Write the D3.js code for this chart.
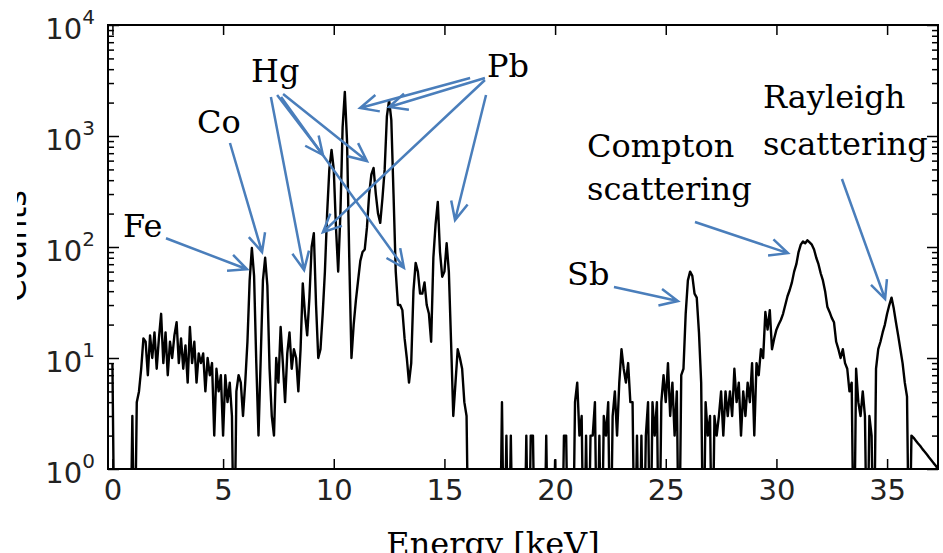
<!DOCTYPE html>
<html>
<head>
<meta charset="utf-8">
<script src="https://cdn.jsdelivr.net/npm/d3@7"></script>
<style>
  html, body { margin: 0; padding: 0; background: #fff; }
  svg { display: block; }
</style>
</head>
<body>
<div id="grafEspectro"></div>
<script>
// counts per channel, channels are 0.1 keV wide starting at 0 keV (one row = 1 keV)
const canalPaso = 0.1
const cuentas = [
  9, 0, 0, 0, 0, 0, 0, 0, 0, 3,
  0, 4, 5, 8, 15, 14, 7, 16, 10, 17,
  8, 15, 25, 9, 17, 7, 14, 10, 16, 21,
  9, 15, 8, 13, 6, 19, 9, 14, 6, 11,
  9, 11, 5, 10, 7, 9, 2, 8, 5, 7,
  2, 7, 4, 6, 3, 0, 5, 7, 6, 3,
  6, 14, 50, 98, 55, 9, 2, 10, 50, 80,
  45, 8, 3, 2, 10, 6, 19, 9, 4, 11,
  17, 8, 12, 10, 5, 12, 47, 25, 16, 35,
  100, 133, 30, 10, 12, 25, 60, 200, 500, 750,
  500, 150, 60, 200, 1200, 2500, 900, 80, 10, 20,
  33, 50, 75, 90, 95, 150, 300, 450, 515, 300,
  200, 165, 275, 500, 1500, 2100, 1400, 300, 60, 30,
  30, 27, 15, 10, 6, 9, 40, 72, 60, 38,
  38, 48, 30, 25, 14, 80, 160, 255, 90, 54,
  60, 108, 60, 14, 3, 6, 12, 10, 8, 4,
  3, 0, 0, 0, 0, 0, 0, 0, 0, 0,
  0, 0, 0, 0, 0, 0, 4, 0, 2, 0,
  2, 0, 0, 0, 0, 0, 0, 2, 0, 2,
  2, 0, 0, 0, 0, 0, 2, 0, 0, 0,
  1.2, 0, 0, 0, 2, 2, 0, 0, 0, 4,
  6, 2, 3, 0, 2, 0, 2, 2, 4, 0,
  2, 0, 3, 2, 4, 0, 3, 5, 2, 6,
  12, 8, 6, 9, 4, 4, 0, 2, 0, 2,
  0, 2, 4, 0, 4, 2, 4, 0, 4, 7,
  4, 9, 3, 6, 2, 5, 0, 7, 8, 25,
  50, 60, 55, 38, 35, 17, 6, 0, 4, 2,
  3, 0, 3, 2, 3, 5, 2, 5, 3, 5,
  3, 8, 4, 6, 2, 5, 3, 6, 4, 9,
  2, 9, 7, 12, 10, 26, 18, 27, 12, 15,
  18, 20, 22, 25, 30, 36, 41, 48, 60, 70,
  90, 105, 112, 108, 115, 110, 105, 95, 80, 70,
  58, 50, 40, 29, 26, 23, 21, 14, 12, 10,
  12, 9, 8, 5, 6, 0, 8, 4, 3, 5,
  3, 0, 3, 2, 0, 8, 12, 14, 17, 20,
  25, 30, 35, 28, 21, 16, 12, 9, 6, 4.5,
  0, 2, 1.91, 1.8, 1.7, 1.61, 1.51, 1.43, 1.35, 1.27,
  1.2, 1.13, 1.07, 1.0, 0.95
]

const ticksX = [0, 5, 10, 15, 20, 25, 30, 35]
const ticksY = [1, 10, 100, 1000, 10000]
const exponentesY = ["0", "1", "2", "3", "4"]

// labels: energy [keV] and counts of the text baseline start
const etiquetas = [
  { texto: "Fe", e: 0.48, c: 123 },
  { texto: "Co", e: 3.82, c: 1064 },
  { texto: "Hg", e: 6.26, c: 3064 },
  { texto: "Pb", e: 16.92, c: 3404 },
  { texto: "Sb", e: 20.54, c: 45.5 },
  { texto: "Compton", e: 21.44, c: 647 },
  { texto: "scattering", e: 21.44, c: 265 },
  { texto: "Rayleigh", e: 29.39, c: 1787 },
  { texto: "scattering", e: 29.39, c: 674 }
]

// arrows: from (e0,c0) to the tip (e1,c1)
const flechas = [
  { e0: 2.42, c0: 120, e1: 6.08, c1: 63 },     // Fe
  { e0: 5.31, c0: 865, e1: 6.76, c1: 90 },     // Co
  { e0: 7.16, c0: 2245, e1: 8.66, c1: 62 },    // Hg
  { e0: 7.44, c0: 2340, e1: 9.51, c1: 674 },
  { e0: 7.71, c0: 2390, e1: 11.5, c1: 595 },
  { e0: 7.62, c0: 2245, e1: 13.17, c1: 65 },
  { e0: 16.16, c0: 3333, e1: 11.19, c1: 1788 }, // Pb
  { e0: 16.83, c0: 3333, e1: 12.5, c1: 1825 },
  { e0: 16.83, c0: 3197, e1: 9.51, c1: 136 },
  { e0: 16.88, c0: 2340, e1: 15.48, c1: 175 },
  { e0: 22.66, c0: 43.6, e1: 25.55, c1: 32.6 }, // Sb
  { e0: 26.32, c0: 168, e1: 30.52, c1: 88 },    // Compton
  { e0: 32.96, c0: 410, e1: 34.91, c1: 34 }     // Rayleigh
]

const grafEspectro = d3.select("#grafEspectro")
const anchoTotal = 943
const altoTotal = 553
const margins = { left: 108, top: 25, right: 5, bottom: 84 }
const ancho = anchoTotal - margins.left - margins.right
const alto = altoTotal - margins.top - margins.bottom

const svg = grafEspectro
  .append("svg")
  .attr("width", anchoTotal)
  .attr("height", altoTotal)

const g = svg.append("g")
  .attr("transform", `translate(${margins.left}, ${margins.top})`)

const x = d3.scaleLinear().domain([-0.2, 37.3]).range([0, ancho])
const y = d3.scaleLog().domain([1, 10000]).range([alto, 0])

const minorY = []
ticksY.slice(0, -1).forEach(t => d3.range(2, 10).forEach(k => minorY.push(t * k)))

svg.append("defs").append("clipPath").attr("id", "clipPlot")
  .append("rect").attr("width", ancho).attr("height", alto)

svg.select("defs").append("clipPath").attr("id", "clipY")
  .append("rect").attr("x", 17).attr("y", 0).attr("width", 60).attr("height", altoTotal)

// spectrum
const linea = d3.line()
  .x((d, i) => x(i * canalPaso))
  .y(d => y(Math.max(d, 0.1)))

g.append("path")
  .datum(cuentas)
  .attr("clip-path", "url(#clipPlot)")
  .attr("fill", "none")
  .attr("stroke", "#000")
  .attr("stroke-width", 2.4)
  .attr("stroke-linejoin", "round")
  .attr("d", linea)

// axes, ticks pointing inwards
const estiloEje = (sel) => {
  sel.select(".domain").remove()
  sel.selectAll(".tick line").attr("stroke", "#000").attr("stroke-width", 1.5)
  sel.attr("font-family", "DejaVu Sans").attr("font-size", 29)
  sel.selectAll("text").attr("fill", "#222")
}

g.append("g")
  .attr("transform", `translate(0, ${alto})`)
  .call(d3.axisBottom(x).tickValues(ticksX).tickSizeInner(-10).tickSizeOuter(0).tickPadding(10).tickFormat(d3.format("d")))
  .call(estiloEje)

g.append("g")
  .call(d3.axisTop(x).tickValues(ticksX).tickSizeInner(-10).tickSizeOuter(0).tickFormat(""))
  .call(estiloEje)

const ejeY = g.append("g")
  .call(d3.axisLeft(y).tickValues(ticksY).tickSizeInner(-11).tickSizeOuter(0).tickPadding(13))
  .call(estiloEje)

ejeY.selectAll("text")
  .text("")
  .attr("dy", "0.45em")
  .each(function (d, i) {
    const t = d3.select(this)
    t.append("tspan").text("10")
    t.append("tspan").attr("font-size", 20).attr("dy", -15).text(exponentesY[i])
  })

g.append("g")
  .call(d3.axisLeft(y).tickValues(minorY).tickSizeInner(-6).tickSizeOuter(0).tickFormat(""))
  .call(estiloEje)

g.append("g")
  .attr("transform", `translate(${ancho}, 0)`)
  .call(d3.axisRight(y).tickValues(ticksY).tickSizeInner(-11).tickSizeOuter(0).tickFormat(""))
  .call(estiloEje)

g.append("g")
  .attr("transform", `translate(${ancho}, 0)`)
  .call(d3.axisRight(y).tickValues(minorY).tickSizeInner(-6).tickSizeOuter(0).tickFormat(""))
  .call(estiloEje)

g.append("rect")
  .attr("width", ancho)
  .attr("height", alto)
  .attr("fill", "none")
  .attr("stroke", "#000")
  .attr("stroke-width", 2)

// axis titles (cut by the page edge like in the original)
svg.append("text")
  .attr("x", 493)
  .attr("y", 555)
  .attr("text-anchor", "middle")
  .attr("font-family", "DejaVu Serif")
  .attr("font-size", 32)
  .attr("fill", "#000")
  .text("Energy [keV]")

svg.append("g")
  .attr("clip-path", "url(#clipY)")
  .append("text")
  .attr("transform", "translate(26, 246) rotate(-90)")
  .attr("text-anchor", "middle")
  .attr("font-family", "DejaVu Sans")
  .attr("font-size", 32)
  .attr("fill", "#000")
  .text("Counts")

// annotations
g.selectAll(".etiqueta")
  .data(etiquetas)
  .enter()
  .append("text")
  .attr("class", "etiqueta")
  .attr("x", d => x(d.e))
  .attr("y", d => y(d.c))
  .attr("font-family", "DejaVu Serif")
  .attr("font-size", 32)
  .attr("fill", "#000")
  .text(d => d.texto)

const puntaLargo = 20
const puntaAngulo = 25 * Math.PI / 180

g.selectAll(".flecha")
  .data(flechas)
  .enter()
  .append("path")
  .attr("class", "flecha")
  .attr("fill", "none")
  .attr("stroke", "#4a7ebb")
  .attr("stroke-width", 2.5)
  .attr("d", d => {
    const x0 = x(d.e0), y0 = y(d.c0), x1 = x(d.e1), y1 = y(d.c1)
    const a = Math.atan2(y1 - y0, x1 - x0)
    const ax = x1 - puntaLargo * Math.cos(a - puntaAngulo)
    const ay = y1 - puntaLargo * Math.sin(a - puntaAngulo)
    const bx = x1 - puntaLargo * Math.cos(a + puntaAngulo)
    const by = y1 - puntaLargo * Math.sin(a + puntaAngulo)
    return `M${x0},${y0}L${x1},${y1}M${ax},${ay}L${x1},${y1}L${bx},${by}`
  })
</script>
</body>
</html>
